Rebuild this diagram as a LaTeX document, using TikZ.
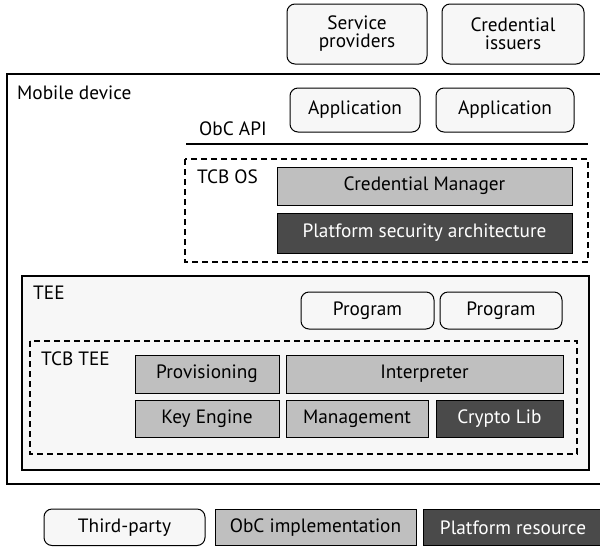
\documentclass[tikz,border=0pt]{standalone}
\usepackage{fontspec}
\setmainfont{PT Sans}
\begin{document}
\begin{tikzpicture}[x=1pt,y=-1pt,
  font=\fontsize{19.3}{21}\selectfont,
  thirdparty/.style={draw=black,line width=1pt,rounded corners=8pt,fill=white!97!black,align=center},
  obc/.style={draw=black,line width=1pt,fill=black!25},
  platform/.style={draw=black,line width=1pt,fill=black!71},
  wtext/.style={text=white},
  frame/.style={draw=black,line width=1.3pt},
  tcb/.style={draw=black,line width=1.2pt,dashed,dash pattern=on 6pt off 4pt},
  lbl/.style={anchor=base west,inner sep=0pt}]
\useasboundingbox (0,0) rectangle (600,547);

% external parties
\draw[thirdparty] (287,4) rectangle (427,64);
\node[align=center] (sp) at (357,34) {Service\\[-3pt]providers};
\draw[thirdparty] (442,4) rectangle (584,64);
\node[align=center] (ci) at (513,34) {Credential\\[-3pt]issuers};

% mobile device
\draw[frame,fill=white] (7,74) rectangle (612,484);
\node[lbl] (md) at (17,99) {Mobile device};

\draw[thirdparty] (290,88) rectangle (420,132);
\node (app1) at (355,110) {Application};
\draw[thirdparty] (436,88) rectangle (574,132);
\node (app2) at (505,110) {Application};

\node[lbl] (api) at (199,135) {ObC API};
\draw[line width=1.2pt] (186,144) -- (588,144);

% TCB OS
\draw[tcb] (185,159) rectangle (588,262);
\node[lbl] (tcbos) at (197,183) {TCB OS};
\draw[obc] (277,167) rectangle (572,205);
\node (cm) at (424.5,186) {Credential Manager};
\draw[platform] (277,213) rectangle (572,253);
\node[wtext] (psa) at (424.5,233) {Platform security architecture};

% TEE
\draw[frame,fill=black!3] (22,276) rectangle (589,470);
\node[lbl] (tee) at (33,299) {TEE};
\draw[thirdparty] (301,292) rectangle (434,329);
\node (prog1) at (367.5,310.5) {Program};
\draw[thirdparty] (440,292) rectangle (562,329);
\node (prog2) at (501,310.5) {Program};

% TCB TEE
\draw[tcb] (30,341) rectangle (577,454);
\node[lbl] (tcbtee) at (41,365) {TCB TEE};
\draw[obc] (135,355) rectangle (279,393);
\node (prov) at (207,374) {Provisioning};
\draw[obc] (286,355) rectangle (563,393);
\node (interp) at (424.5,374) {Interpreter};
\draw[obc] (135,400) rectangle (279,437);
\node (ke) at (207,418.5) {Key Engine};
\draw[obc] (286,400) rectangle (428,437);
\node (mgmt) at (357,418.5) {Management};
\draw[platform] (436,400) rectangle (563,437);
\node[wtext] (crypto) at (499.5,418.5) {Crypto Lib};

% legend
\draw[thirdparty] (44,509) rectangle (205,545.5);
\node (lg1) at (124.5,527.5) {Third-party};
\draw[obc] (215,509) rectangle (416,545.5);
\node (lg2) at (315.5,527.5) {ObC implementation};
\draw[platform] (423,509) rectangle (612,545.5);
\node[wtext] (lg3) at (513,527.5) {Platform resource};
\end{tikzpicture}
\end{document}
